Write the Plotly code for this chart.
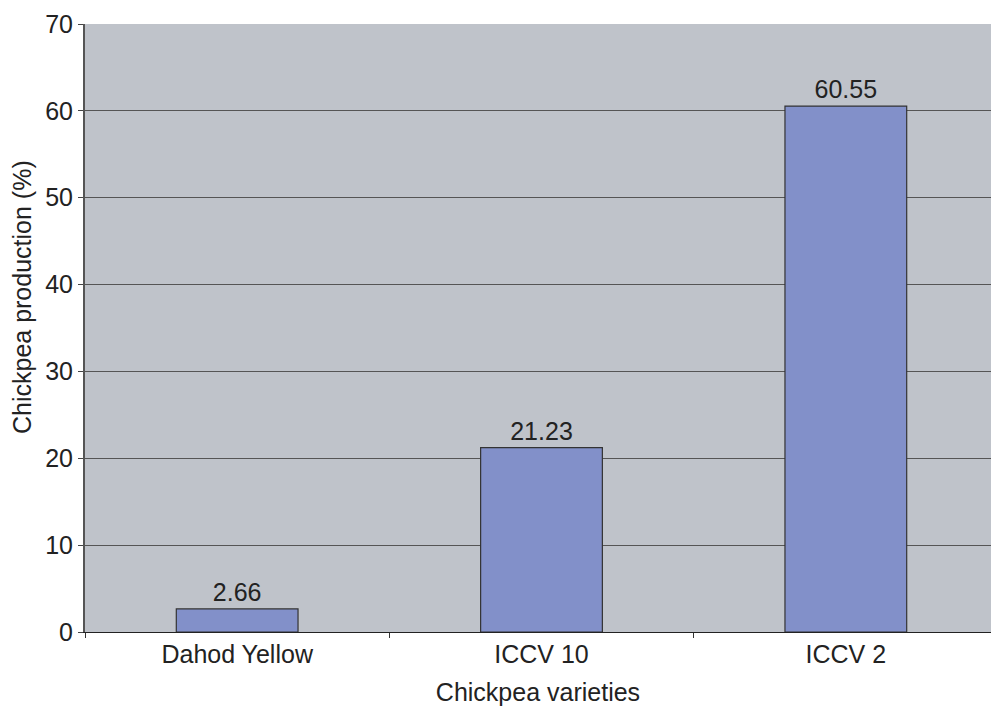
import plotly.graph_objects as go

# Chickpea production share by variety
varieties = ["Dahod Yellow", "ICCV 10", "ICCV 2"]
production = [2.66, 21.23, 60.55]
labels = ["2.66", "21.23", "60.55"]

FONT = "Liberation Sans, Arial, sans-serif"
FS = 25

fig = go.Figure(
    go.Bar(
        x=varieties,
        y=production,
        width=0.4,
        text=labels,
        textposition="outside",
        textfont=dict(family=FONT, size=FS, color="#222222"),
        cliponaxis=False,
        marker=dict(color="#8290C9", line=dict(color="#333333", width=1.2)),
        showlegend=False,
    )
)

fig.update_layout(
    width=991,
    height=707,
    margin=dict(l=85, r=0, t=24, b=75),
    paper_bgcolor="white",
    plot_bgcolor="#BFC3CA",
    font=dict(family=FONT, size=FS, color="#222222"),
    bargap=0.6,
)

fig.update_xaxes(
    range=[-0.5, 2.477],
    tickson="boundaries",
    ticks="outside",
    ticklen=5,
    tickcolor="#333333",
    showline=True,
    linecolor="#222222",
    linewidth=1,
    showgrid=False,
    tickfont=dict(size=FS),
    title=dict(text="Chickpea varieties", font=dict(size=FS), standoff=16),
)

fig.update_yaxes(
    range=[0, 70],
    dtick=10,
    ticks="outside",
    ticklen=5,
    tickcolor="#444444",
    showline=True,
    linecolor="#555555",
    linewidth=2,
    showgrid=True,
    gridcolor="#555555",
    gridwidth=1,
    zeroline=False,
    tickfont=dict(size=FS),
)

# Y-axis title placed slightly above the plot centre
fig.add_annotation(
    text="Chickpea production (%)",
    xref="paper", yref="paper",
    x=-0.0695, y=0.551,
    xanchor="center", yanchor="middle",
    textangle=-90,
    showarrow=False,
    font=dict(family=FONT, size=FS, color="#222222"),
)

fig.write_html("out.html")
